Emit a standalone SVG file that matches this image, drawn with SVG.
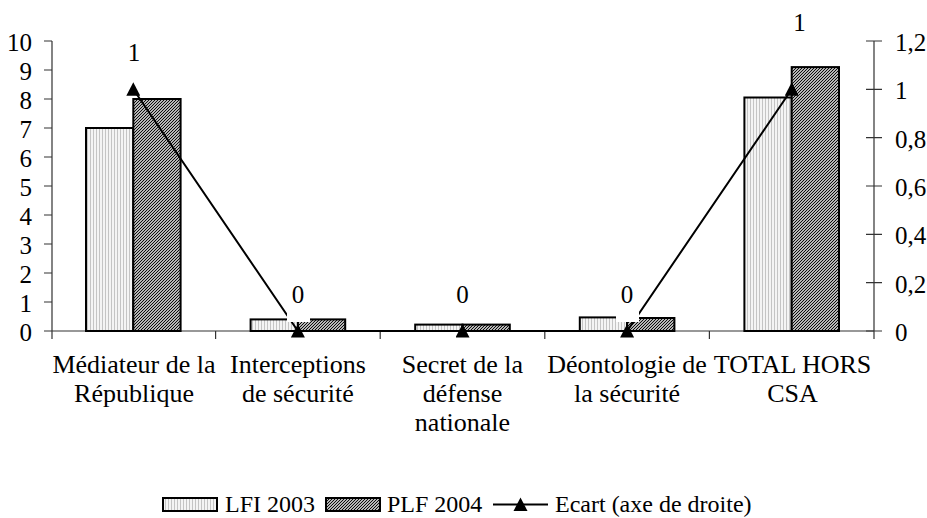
<svg xmlns="http://www.w3.org/2000/svg" width="927" height="518" viewBox="0 0 927 518">
<style>
text{font-family:"Liberation Serif","Times New Roman",serif;font-size:25px;fill:#000}
.cat{font-size:26px;text-anchor:middle}
.leg{font-size:24px}
.mid{text-anchor:middle}
.end{text-anchor:end}
.ax{stroke:#333;stroke-width:1.2;fill:none}
.lfi{fill:url(#lfiPat);stroke:#000;stroke-width:2}
.plf{fill:url(#plfPat);stroke:#000;stroke-width:2}
.lbox{fill:#fff;stroke:none}
</style>
<defs>
<pattern id="lfiPat" patternUnits="userSpaceOnUse" width="3" height="3">
<rect width="3" height="3" fill="#f4f4f4"/>
<rect width="1" height="3" fill="#c4c4c4"/>
</pattern>
<pattern id="plfPat" patternUnits="userSpaceOnUse" width="3" height="3">
<rect width="3" height="3" fill="#fff"/>
<path d="M-1,1 L1,-1 M0,3 L3,0 M2,4 L4,2" stroke="#000" stroke-width="1.1"/>
</pattern>
<marker id="tri" viewBox="-7 -7 14 14" refX="0" refY="0" markerWidth="14" markerHeight="14" markerUnits="userSpaceOnUse">
<path d="M0,-7 L7,6.5 L-7,6.5 Z" fill="#000"/>
</marker>
</defs>
<rect width="927" height="518" fill="#fff"/>

<g id="axes">
<path class="ax" d="M52,41 V339 M52,331 H874 M874,41 V339"/>
<path class="ax" d="M44,41 H52 M44,70 H52 M44,99 H52 M44,128 H52 M44,157 H52 M44,186 H52 M44,215 H52 M44,244 H52 M44,273 H52 M44,302 H52 M44,331 H52"/>
<path class="ax" d="M866,41 H882 M866,89.3 H882 M866,137.7 H882 M866,186 H882 M866,234.3 H882 M866,282.7 H882 M866,331 H882"/>
<path class="ax" d="M215.6,331 V339 M380.2,331 V339 M544.8,331 V339 M709.4,331 V339"/>
</g>

<g id="left-axis-labels">
<text class="end" x="32" y="51">10</text>
<text class="end" x="32" y="80">9</text>
<text class="end" x="32" y="109">8</text>
<text class="end" x="32" y="138">7</text>
<text class="end" x="32" y="167">6</text>
<text class="end" x="32" y="196">5</text>
<text class="end" x="32" y="225">4</text>
<text class="end" x="32" y="254">3</text>
<text class="end" x="32" y="283">2</text>
<text class="end" x="32" y="312">1</text>
<text class="end" x="32" y="341">0</text>
</g>

<g id="right-axis-labels">
<text x="895" y="51">1,2</text>
<text x="895" y="99">1</text>
<text x="895" y="148">0,8</text>
<text x="895" y="196">0,6</text>
<text x="895" y="244">0,4</text>
<text x="895" y="293">0,2</text>
<text x="895" y="341">0</text>
</g>

<g id="cat-mediateur">
<rect class="lfi" x="86" y="128" width="47.3" height="203"/>
<rect class="plf" x="133.3" y="99" width="47.3" height="232"/>
<text class="cat" x="134" y="373">Médiateur de la</text>
<text class="cat" x="134" y="402">République</text>
</g>
<g id="cat-interceptions">
<rect class="lfi" x="250.6" y="319.4" width="47.3" height="11.6"/>
<rect class="plf" x="297.9" y="319.4" width="47.3" height="11.6"/>
<text class="cat" x="297.9" y="373">Interceptions</text>
<text class="cat" x="297.9" y="402">de sécurité</text>
</g>
<g id="cat-secret">
<rect class="lfi" x="415.2" y="324.6" width="47.3" height="6.4"/>
<rect class="plf" x="462.5" y="324.6" width="47.3" height="6.4"/>
<text class="cat" x="462.5" y="373">Secret de la</text>
<text class="cat" x="462.5" y="402">défense</text>
<text class="cat" x="462.5" y="431">nationale</text>
</g>
<g id="cat-deontologie">
<rect class="lfi" x="579.8" y="317.4" width="47.3" height="13.6"/>
<rect class="plf" x="627.1" y="318" width="47.3" height="13"/>
<text class="cat" x="627.1" y="373">Déontologie de</text>
<text class="cat" x="627.1" y="402">la sécurité</text>
</g>
<g id="cat-total">
<rect class="lfi" x="744.4" y="97.5" width="47.3" height="233.5"/>
<rect class="plf" x="791.7" y="67.1" width="47.3" height="263.9"/>
<text class="cat" x="792.5" y="373">TOTAL HORS</text>
<text class="cat" x="792.5" y="402">CSA</text>
</g>

<g id="connectors">
<polyline points="133.3,89.3 297.9,331 462.5,331 627.1,331 791.7,89.3" fill="none" stroke="#000" stroke-width="2"/>
</g>

<g id="data-labels">
<rect class="lbox" x="287" y="283" width="23" height="39"/>
<rect class="lbox" x="451.5" y="283" width="23" height="39"/>
<rect class="lbox" x="616" y="283" width="23" height="39"/>
<text class="mid" x="134" y="61">1</text>
<text class="mid" x="297.9" y="303">0</text>
<text class="mid" x="462.5" y="303">0</text>
<text class="mid" x="627.1" y="303">0</text>
<text class="mid" x="799.5" y="31">1</text>
</g>

<g id="markers">
<polyline points="133.3,89.3 297.9,331 462.5,331 627.1,331 791.7,89.3" fill="none" stroke="none" marker-start="url(#tri)" marker-mid="url(#tri)" marker-end="url(#tri)"/>
</g>

<g id="legend">
<rect class="lfi" x="163" y="498" width="54" height="13" stroke-width="1.5"/>
<text class="leg" x="225" y="512">LFI 2003</text>
<rect class="plf" x="326" y="498" width="54" height="13" stroke-width="1.5"/>
<text class="leg" x="387" y="512">PLF 2004</text>
<line x1="493" y1="504.5" x2="548" y2="504.5" stroke="#000" stroke-width="2"/>
<path d="M520.5,497.5 L527.5,511 L513.5,511 Z" fill="#000"/>
<text class="leg" x="555" y="512">Ecart (axe de droite)</text>
</g>
</svg>
